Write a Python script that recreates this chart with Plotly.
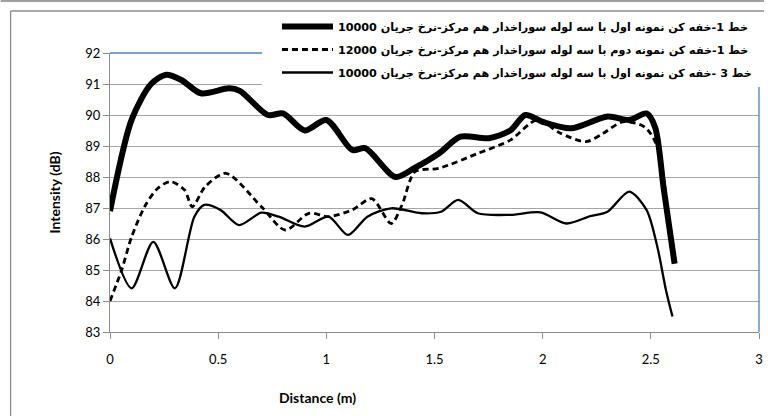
import plotly.graph_objects as go

# ---- data ----
x_s1 = [0, 0.1, 0.19, 0.26, 0.33, 0.42, 0.55, 0.6, 0.73, 0.8, 0.9, 1.0, 1.12, 1.18, 1.32, 1.41,
        1.52, 1.62, 1.75, 1.85, 1.92, 2.0, 2.13, 2.3, 2.4, 2.48, 2.52, 2.56, 2.61]
y_s1 = [86.9, 89.85, 91.0, 91.3, 91.13, 90.7, 90.86, 90.78, 90.0, 90.05, 89.5, 89.84, 88.87, 88.93, 88.0, 88.3,
        88.76, 89.3, 89.25, 89.5, 90.0, 89.78, 89.57, 89.95, 89.84, 90.05, 89.6, 87.6, 85.2]

x_s2 = [0, 0.054, 0.1, 0.16, 0.22, 0.28, 0.345, 0.38, 0.44, 0.536, 0.7, 0.81, 0.92, 1.01, 1.12, 1.21,
        1.3, 1.35, 1.41, 1.52, 1.7, 1.85, 1.975, 2.08, 2.2, 2.28, 2.37, 2.47, 2.53, 2.6]
y_s2 = [84.0, 85.0, 86.07, 87.04, 87.63, 87.85, 87.58, 87.04, 87.69, 88.12, 87.04, 86.29, 86.83, 86.72, 86.94, 87.3,
        86.5, 87.1, 88.17, 88.28, 88.76, 89.19, 89.84, 89.42, 89.14, 89.41, 89.78, 89.62, 88.98, 85.43]

x_s3 = [0, 0.1, 0.2, 0.3, 0.39, 0.436, 0.51, 0.597, 0.7, 0.78, 0.9, 1.01, 1.1, 1.19, 1.3, 1.44,
        1.53, 1.61, 1.7, 1.85, 1.99, 2.11, 2.22, 2.3, 2.4, 2.48, 2.53, 2.57, 2.6]
y_s3 = [86.02, 84.41, 85.91, 84.41, 86.72, 87.1, 86.94, 86.45, 86.85, 86.72, 86.4, 86.72, 86.13, 86.72, 86.99, 86.83,
        86.88, 87.26, 86.83, 86.78, 86.86, 86.5, 86.74, 86.88, 87.53, 86.94, 85.75, 84.35, 83.5]

names = [
    "خط 1-خفه کن نمونه اول با سه لوله سوراخدار هم مرکز-نرخ جریان 10000",
    "خط 1-خفه کن نمونه دوم با سه لوله سوراخدار هم مرکز-نرخ جریان 12000",
    "خط 3 -خفه کن نمونه اول با سه لوله سوراخدار هم مرکز-نرخ جریان 10000",
]
x_ticks = [0, 0.5, 1, 1.5, 2, 2.5, 3]
y_ticks = [83, 84, 85, 86, 87, 88, 89, 90, 91, 92]
x_title = "Distance (m)"
y_title = "Intensity (dB)"

W, H = 768, 416
L, R, T, B = 110, 5, 53, 84
pw, ph = W - L - R, H - T - B

def px(v):
    return (v - L) / pw

def py(v):
    return (H - B - v) / ph

fig = go.Figure()
fig.add_trace(go.Scatter(x=x_s1, y=y_s1, mode="lines", name=names[0], legendgroup="a",
                         line=dict(color="black", width=6, shape="spline", smoothing=0.8)))
fig.add_trace(go.Scatter(x=x_s2, y=y_s2, mode="lines", name=names[1], legendgroup="b",
                         line=dict(color="black", width=2.8, dash="6px,4px", shape="spline", smoothing=0.8)))
fig.add_trace(go.Scatter(x=x_s3, y=y_s3, mode="lines", name=names[2], legendgroup="c",
                         line=dict(color="black", width=2.3, shape="spline", smoothing=0.8)))

tickfont = dict(family="Lato, sans-serif", size=13, color="black")
fig.update_xaxes(range=[0, 3], tickvals=x_ticks, ticktext=[str(t) for t in x_ticks],
                 showgrid=False, zeroline=False, showline=True, linecolor="#8C8C8C", linewidth=1,
                 ticks="outside", ticklen=6, tickcolor="#8C8C8C", tickfont=tickfont,
                 ticklabelstandoff=9)
fig.update_yaxes(range=[83, 92], tickvals=y_ticks, showgrid=True, gridcolor="#A6A6A6", gridwidth=1.3,
                 zeroline=False, showline=True, linecolor="#8C8C8C", linewidth=1,
                 ticks="outside", ticklen=6, tickcolor="#8C8C8C", tickfont=tickfont,
                 title=dict(text="<b>" + y_title + "</b>", font=dict(family="Lato, sans-serif", size=14, color="black"),
                            standoff=21))

shapes = [
    # blue top and right plot border
    dict(type="line", xref="paper", yref="paper", x0=0, x1=1, y0=1, y1=1,
         line=dict(color="#4F81BD", width=1.3), layer="above"),
    dict(type="line", xref="paper", yref="paper", x0=1, x1=1, y0=0, y1=1,
         line=dict(color="#4F81BD", width=1.3), layer="above"),
    # legend box background
    dict(type="rect", xref="paper", yref="paper", x0=px(263), x1=px(769), y0=py(87), y1=py(14),
         fillcolor="white", line=dict(width=0), layer="above"),
    # outer chart frame (left and top edges)
    dict(type="line", xref="paper", yref="paper", x0=px(10), x1=px(10), y0=py(416), y1=py(11),
         line=dict(color="#8C8C8C", width=1.3), layer="above"),
    dict(type="line", xref="paper", yref="paper", x0=px(10), x1=px(768), y0=py(11), y1=py(11),
         line=dict(color="#8C8C8C", width=1.3), layer="above"),
    dict(type="line", xref="paper", yref="paper", x0=px(0), x1=px(768), y0=py(1), y1=py(1),
         line=dict(color="#A0A0A0", width=2), layer="above"),
]

annotations = [
    dict(text="<b>" + x_title + "</b>", xref="x", yref="paper", x=0.957, y=py(397),
         xanchor="center", yanchor="middle", showarrow=False,
         font=dict(family="Lato, sans-serif", size=14, color="black")),
]

fig.update_layout(
    width=W, height=H,
    margin=dict(l=L, r=R, t=T, b=B),
    plot_bgcolor="white", paper_bgcolor="white",
    shapes=shapes, annotations=annotations,
    showlegend=True,
    legend=dict(x=px(278), y=py(12), xanchor="left", yanchor="top",
                bgcolor="rgba(0,0,0,0)", borderwidth=0, tracegroupgap=4, itemwidth=51,
                font=dict(family="DejaVu Sans, sans-serif", size=11.2, color="black", weight="bold")),
)

fig.write_html("out.html", config={"displayModeBar": False},
               post_script="document.body.style.margin='0px';")
